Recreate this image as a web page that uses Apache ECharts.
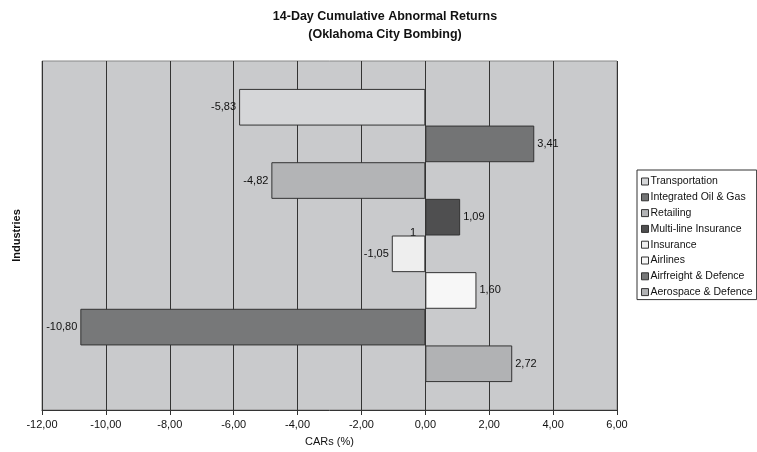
<!DOCTYPE html>
<html><head><meta charset="utf-8">
<script src="https://cdn.jsdelivr.net/npm/echarts@6/dist/echarts.min.js"></script>
<style>html,body{margin:0;padding:0;background:#fff}#c{width:757px;height:452px}</style>
</head><body><div id="c"></div>
<script>
const industries = ["Transportation","Integrated Oil & Gas","Retailing","Multi-line Insurance","Insurance","Airlines","Airfreight & Defence","Aerospace & Defence"];
const cars = [-5.83, 3.41, -4.82, 1.09, -1.05, 1.60, -10.80, 2.72];
const colors = ["#d5d6d8","#737475","#b3b4b6","#4f4f50","#eeeeee","#f7f7f7","#777879","#b1b2b4"];
const xTicks = {min:-12, max:6, interval:2};
const category = ["Industries"];

const chart = echarts.init(document.getElementById('c'), null, {renderer:'canvas'});
const fmt = v => v.toFixed(2).replace('.', ',');
const font = 'Liberation Sans, Arial, sans-serif';
const series = industries.map((name, i) => ({
  name: name,
  type: 'bar',
  barGap: '0%',
  barCategoryGap: '16%',
  itemStyle: {color: colors[i], borderColor: '#333', borderWidth: 1},
  label: {
    show: true,
    position: cars[i] < 0 ? 'left' : 'right',
    distance: 3,
    formatter: p => fmt(p.value),
    fontFamily: font, fontSize: 11, color: '#111'
  },
  data: [cars[i]]
}));
chart.setOption({
  animation: false,
  backgroundColor: '#fff',
  title: {
    text: '14-Day Cumulative Abnormal Returns\n(Oklahoma City Bombing)',
    left: 380, textAlign: 'center', top: 3,
    textStyle: {fontFamily: font, fontSize: 12.5, fontWeight: 'bold', color: '#111', lineHeight: 18}
  },
  legend: {
    orient: 'vertical', left: 637, top: 170,
    data: industries,
    itemWidth: 7, itemHeight: 7, itemGap: 4.8,
    icon: 'rect',
    padding: [6, 4, 2, 4],
    borderColor: '#333', borderWidth: 1,
    textStyle: {fontFamily: font, fontSize: 10.5, color: '#111', padding: [0,0,0,-3]},
    itemStyle: {borderColor: '#333', borderWidth: 1}
  },
  grid: {left: 42, right: 140, top: 61, bottom: 42, show: true, backgroundColor: '#c9cacc', borderColor: '#888', borderWidth: 1},
  xAxis: {
    type: 'value', min: xTicks.min, max: xTicks.max, interval: xTicks.interval,
    name: 'CARs (%)', nameLocation: 'middle', nameGap: 26,
    nameTextStyle: {fontFamily: font, fontSize: 11, color: '#111'},
    axisLine: {show: true, lineStyle: {color: '#333'}},
    axisTick: {show: true, length: 5, lineStyle: {color: '#333'}},
    axisLabel: {formatter: v => fmt(v), fontFamily: font, fontSize: 11, color: '#111', margin: 9},
    splitLine: {show: true, lineStyle: {color: '#333', width: 1}}
  },
  yAxis: {
    type: 'category', data: category, inverse: true,
    name: 'Industries', nameLocation: 'middle', nameGap: 20, nameRotate: 90,
    nameTextStyle: {fontFamily: font, fontSize: 11, fontWeight: 'bold', color: '#111'},
    axisLine: {show: false}, axisTick: {show: false}, axisLabel: {show: false}
  },
  graphic: [{
    type: 'text', left: 410, top: 227,
    style: {text: '1', font: '11px ' + font, fill: '#111'}
  }],
  series: series
});
</script></body></html>
